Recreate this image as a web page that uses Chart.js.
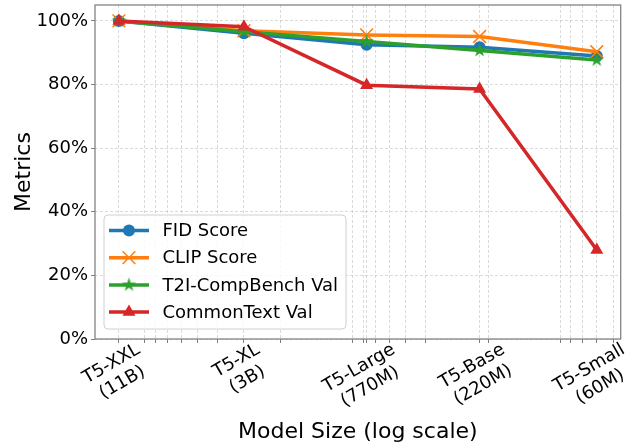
<!DOCTYPE html>
<html>
<head>
<meta charset="utf-8">
<script src="https://cdn.jsdelivr.net/npm/chart.js@4.4.0/dist/chart.umd.min.js"></script>
<style>
  html, body { margin: 0; padding: 0; background: #fff; }
  #wrap { width: 639px; height: 446px; }
</style>
</head>
<body>
<div id="wrap"><canvas id="chart" width="639" height="446"></canvas></div>
<script>
// Data
const categories = ['T5-XXL', 'T5-XL', 'T5-Large', 'T5-Base', 'T5-Small'];
const sizeLabels = ['(11B)', '(3B)', '(770M)', '(220M)', '(60M)'];
const modelParams = [12e9, 3e9, 7.7e8, 2.2e8, 6e7];
const fidScore = [100, 96.1, 92.5, 91.7, 89.0];
const clipScore = [100, 96.9, 95.6, 95.1, 90.3];
const t2iCompBench = [100, 96.6, 93.5, 90.7, 87.7];
const commonText = [100, 98.2, 79.8, 78.6, 28.0];
const yTicks = [0, 20, 40, 60, 80, 100];
const minorSizes = [5e7, 7e7, 8e7, 9e7, 2e8, 4e8, 5e8, 6e8, 7e8, 8e8, 9e8, 2e9, 4e9, 5e9, 6e9, 7e9, 8e9, 9e9];

const FONT = "'DejaVu Sans', sans-serif";
const BLUE = '#1f77b4', ORANGE = '#ff7f0e', GREEN = '#2ca02c', RED = '#d62728';
const GRID = 'rgba(170,170,170,0.55)';
const SPINE = '#7f7f7f';

// filled star marker (matplotlib '*')
function makeStar(color, r) {
  const c = document.createElement('canvas');
  const s = Math.ceil(r * 2 + 2);
  c.width = s; c.height = s;
  const g = c.getContext('2d');
  g.fillStyle = color;
  g.beginPath();
  for (let i = 0; i < 10; i++) {
    const rr = i % 2 === 0 ? r : r * 0.382;
    const a = -Math.PI / 2 + i * Math.PI / 5;
    const px = s / 2 + rr * Math.cos(a), py = s / 2 + rr * Math.sin(a);
    if (i === 0) g.moveTo(px, py); else g.lineTo(px, py);
  }
  g.closePath();
  g.fill();
  return c;
}
const starImg = makeStar(GREEN, 7.5);

// log-space 5% margins like matplotlib
const lmin = Math.log10(Math.min(...modelParams));
const lmax = Math.log10(Math.max(...modelParams));
const span = lmax - lmin;
const xMin = Math.pow(10, lmin - 0.05 * span);
const xMax = Math.pow(10, lmax + 0.05 * span);

function pts(values) {
  return values.map((v, i) => ({ x: modelParams[i], y: v }));
}

const frameAndLabels = {
  id: 'frameAndLabels',
  afterDraw(chart) {
    const { ctx, chartArea: a, scales } = chart;
    ctx.save();
    // frame
    ctx.strokeStyle = SPINE;
    ctx.lineWidth = 1.25;
    ctx.strokeRect(a.left, a.top, a.right - a.left, a.bottom - a.top);

    // x tick labels, two lines, rotated 30deg, centred on the tick
    ctx.font = '18px ' + FONT;
    ctx.fillStyle = '#000';
    ctx.textAlign = 'center';
    ctx.textBaseline = 'middle';
    const step = 21.6;
    const ang = Math.PI / 6;
    categories.forEach((name, i) => {
      const lines = [name, sizeLabels[i]];
      const w = Math.max(...lines.map(t => ctx.measureText(t).width));
      const h = step * lines.length;
      const bh = w * Math.sin(ang) + h * Math.cos(ang);
      const cx = scales.x.getPixelForValue(modelParams[i]) - 2;
      const cy = a.bottom + bh / 2;
      ctx.save();
      ctx.translate(cx, cy);
      ctx.rotate(-ang);
      lines.forEach((t, k) => ctx.fillText(t, 0, -h / 2 + step * (k + 0.5)));
      ctx.restore();
    });

    // legend inside the plot, lower left
    const bx = 104, by = 215, bw = 242, bhh = 114;
    ctx.beginPath();
    ctx.roundRect(bx, by, bw, bhh, 4);
    ctx.fillStyle = 'rgba(255,255,255,0.8)';
    ctx.fill();
    ctx.strokeStyle = '#d0d0d0';
    ctx.lineWidth = 1;
    ctx.stroke();
    ctx.textAlign = 'left';
    chart.data.datasets.forEach((ds, i) => {
      const y = 230.5 + i * 27.2;
      ctx.strokeStyle = ds.borderColor;
      ctx.lineWidth = ds.borderWidth;
      ctx.beginPath();
      ctx.moveTo(109, y);
      ctx.lineTo(149, y);
      ctx.stroke();
      const mx = 129;
      const ps = ds.pointStyle;
      if (ps === 'circle') {
        ctx.fillStyle = ds.borderColor;
        ctx.beginPath();
        ctx.arc(mx, y, ds.pointRadius, 0, Math.PI * 2);
        ctx.fill();
      } else if (ps === 'crossRot') {
        const d = ds.pointRadius * Math.SQRT1_2;
        ctx.lineWidth = ds.pointBorderWidth;
        ctx.beginPath();
        ctx.moveTo(mx - d, y - d); ctx.lineTo(mx + d, y + d);
        ctx.moveTo(mx + d, y - d); ctx.lineTo(mx - d, y + d);
        ctx.stroke();
      } else if (ps === 'triangle') {
        const r = ds.pointRadius;
        ctx.fillStyle = ds.borderColor;
        ctx.beginPath();
        ctx.moveTo(mx, y - r);
        ctx.lineTo(mx + r * Math.sin(2 * Math.PI / 3), y - r * Math.cos(2 * Math.PI / 3));
        ctx.lineTo(mx - r * Math.sin(2 * Math.PI / 3), y - r * Math.cos(2 * Math.PI / 3));
        ctx.closePath();
        ctx.fill();
      } else {
        ctx.drawImage(ps, mx - ps.width / 2, y - ps.height / 2);
      }
      ctx.fillStyle = '#000';
      ctx.fillText(ds.label, 162.5, y + 1);
    });
    ctx.restore();
  }
};

new Chart(document.getElementById('chart'), {
  type: 'line',
  data: {
    datasets: [
      {
        label: 'FID Score', data: pts(fidScore), order: 4,
        borderColor: BLUE, backgroundColor: BLUE, borderWidth: 3.5,
        pointStyle: 'circle', pointRadius: 6, pointBackgroundColor: BLUE, pointBorderColor: BLUE, pointBorderWidth: 0
      },
      {
        label: 'CLIP Score', data: pts(clipScore), order: 3,
        borderColor: ORANGE, backgroundColor: ORANGE, borderWidth: 3.5,
        pointStyle: 'crossRot', pointRadius: 9, pointBorderColor: ORANGE, pointBorderWidth: 1.5
      },
      {
        label: 'T2I-CompBench Val', data: pts(t2iCompBench), order: 2,
        borderColor: GREEN, backgroundColor: GREEN, borderWidth: 3.5,
        pointStyle: starImg, pointRadius: 7
      },
      {
        label: 'CommonText Val', data: pts(commonText), order: 1,
        borderColor: RED, backgroundColor: RED, borderWidth: 3.5,
        pointStyle: 'triangle', pointRadius: 7.5, pointBackgroundColor: RED, pointBorderColor: RED, pointBorderWidth: 0
      }
    ]
  },
  options: {
    responsive: false,
    animation: false,
    devicePixelRatio: 1,
    layout: { autoPadding: false, padding: { top: 5, right: 18.3, left: 0, bottom: 0 } },
    plugins: { legend: { display: false }, tooltip: { enabled: false } },
    elements: { line: { tension: 0 } },
    scales: {
      x: {
        type: 'logarithmic',
        reverse: true,
        min: xMin,
        max: xMax,
        afterBuildTicks: (axis) => {
          axis.ticks = modelParams.concat(minorSizes).map(v => ({ value: v }));
        },
        afterFit: (axis) => {
          axis.height = 107;
          axis.paddingLeft = 0; axis.paddingRight = 0;
        },
        ticks: { display: false, autoSkip: false },
        grid: {
          color: GRID, lineWidth: 0.8, drawTicks: true, tickLength: 4,
          tickColor: SPINE, tickWidth: 1, borderDash: [3, 2], tickBorderDash: []
        },
        border: { display: false, dash: [3, 2] },
        title: {
          display: true, text: 'Model Size (log scale)', color: '#000',
          font: { family: FONT, size: 22 }, padding: { top: 0, bottom: 1 }
        }
      },
      y: {
        min: 0,
        max: 105,
        afterBuildTicks: (axis) => { axis.ticks = yTicks.map(v => ({ value: v })); },
        afterFit: (axis) => {
          axis.width = 95;
          axis.paddingTop = 0; axis.paddingBottom = 0;
        },
        ticks: {
          color: '#000', font: { family: FONT, size: 18 }, padding: 3,
          callback: (v) => v + '%'
        },
        grid: {
          color: GRID, lineWidth: 0.8, drawTicks: true, tickLength: 4,
          tickColor: SPINE, tickWidth: 1, borderDash: [3, 2], tickBorderDash: []
        },
        border: { display: false, dash: [3, 2] },
        title: {
          display: true, text: 'Metrics', color: '#000',
          font: { family: FONT, size: 22 }, padding: { top: 11, bottom: 0 }
        }
      }
    }
  },
  plugins: [frameAndLabels]
});
</script>
</body>
</html>
